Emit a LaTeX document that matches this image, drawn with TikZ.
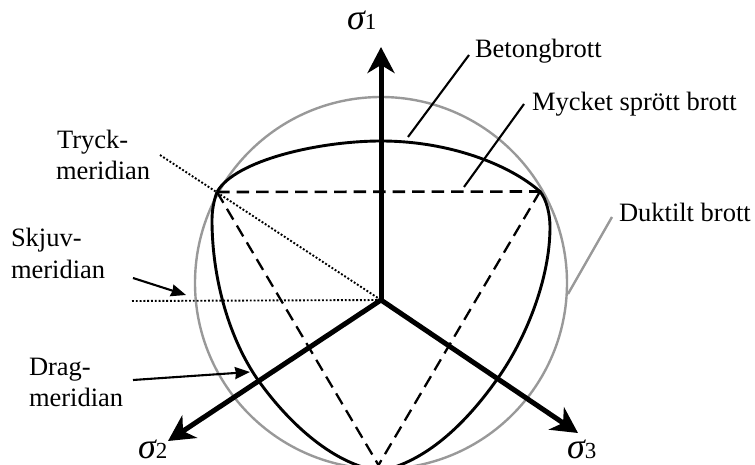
\documentclass[tikz,border=0pt]{standalone}
\usepackage{fontspec}
\setmainfont{Liberation Serif}
\usetikzlibrary{arrows.meta}
\tikzset{
  x=1pt,y=-1pt,
  lab/.style={anchor=base west,inner sep=0pt,outer sep=0pt,font=\fontsize{26.5}{31}\selectfont},
  sig/.style={anchor=base west,inner sep=0pt,outer sep=0pt},
  axis/.style={line width=5pt,-{Stealth[length=26pt,width=27pt,inset=8pt]}},
  failcurve/.style={line width=2.9pt,line join=round},
  tri/.style={line width=2.6pt,dash pattern=on 12.5pt off 7pt},
  dots/.style={line width=1.9pt,dash pattern=on 1.9pt off 1.9pt},
  leader/.style={line width=2.1pt},
  pointer/.style={line width=2.1pt,-{Stealth[length=15pt,width=12pt,inset=1pt]}},
  grayl/.style={line width=2.4pt,color=black!40},
}
\newcommand{\sgm}[1]{{\fontsize{36}{36}\selectfont\itshape\char"03C3}{\fontsize{23}{23}\selectfont #1}}
\begin{document}
\begin{tikzpicture}
\clip (0,0) rectangle (755,465);
\coordinate (O) at (381,300);
\coordinate (A) at (217,192);
\coordinate (B) at (540,191.5);
\coordinate (Top) at (381,141);
\coordinate (R) at (550,227);
\coordinate (R2) at (498,378);
\coordinate (L) at (212,220);
\coordinate (L2) at (258,380);
\coordinate (Bot) at (380,471);
\coordinate (Cl) at (382,471);
\coordinate (Cr) at (375,471);
\coordinate (T1) at (381,47);
\coordinate (T2) at (168,441);
\coordinate (T3) at (578,433);
% circle
\node[circle,draw=black!40,line width=2.4pt,minimum size=372pt,inner sep=0pt] (circ) at (381,283) {};
% triangle
\draw[tri] (A) -- (B);
\draw[tri,line width=2.3pt] (A) -- (Cl);
\draw[tri,line width=2.3pt] (B) -- (Cr);
% failure curve
\draw[failcurve] (A) .. controls (235,160) and (320,141) .. (Top)
  .. controls (450,141) and (510,165) .. (B)
  .. controls (547,200) and (550,215) .. (R)
  .. controls (550,280) and (525,340) .. (R2)
  .. controls (465,425) and (425,462) .. (Bot);
\draw[failcurve] (A) .. controls (214,200) and (212,210) .. (L)
  .. controls (212,280) and (230,340) .. (L2)
  .. controls (290,425) and (335,465) .. (Bot);
% labels
\node[lab] (betong) at (475,58) {Betongbrott};
\node[lab] (mycket) at (532,111) {Mycket sprött brott};
\node[lab] (duktil) at (619,222) {Duktilt brott};
\node[lab] (tryck1) at (57,149) {Tryck-};
\node[lab] (tryck2) at (56,180) {meridian};
\node[lab] (skjuv1) at (11,247) {Skjuv-};
\node[lab] (skjuv2) at (11,278) {meridian};
\node[lab] (drag1) at (29,375) {Drag-};
\node[lab] (drag2) at (29,406) {meridian};
\node[sig] (s1) at (347,30) {\sgm{1}};
\node[sig] (s2) at (138,458) {\sgm{2}};
\node[sig] (s3) at (567,458) {\sgm{3}};
% dotted meridians
\coordinate (D1) at (160,155);
\coordinate (D2) at (132,301);
\draw[dots] (D1) -- (O);
\draw[dots] (D2) -- (O);
% pointers
\coordinate (P1a) at (133,278);
\coordinate (P1b) at (186,295);
\coordinate (P2a) at (133,380);
\coordinate (P2b) at (250,372);
\draw[pointer] (P1a) -- (P1b);
\draw[pointer] (P2a) -- (P2b);
% leaders
\coordinate (La) at (469,55);
\coordinate (Lb) at (408,137);
\coordinate (Lc) at (524,104);
\coordinate (Ld) at (464,187);
\coordinate (Le) at (612,217);
\coordinate (Lf) at (568,294);
\draw[leader] (La) -- (Lb);
\draw[leader] (Lc) -- (Ld);
\draw[grayl] (Le) -- (Lf);
% axes
\draw[axis] (O) -- (T1);
\draw[axis] (O) -- (T2);
\draw[axis] (O) -- (T3);
\end{tikzpicture}
\end{document}
